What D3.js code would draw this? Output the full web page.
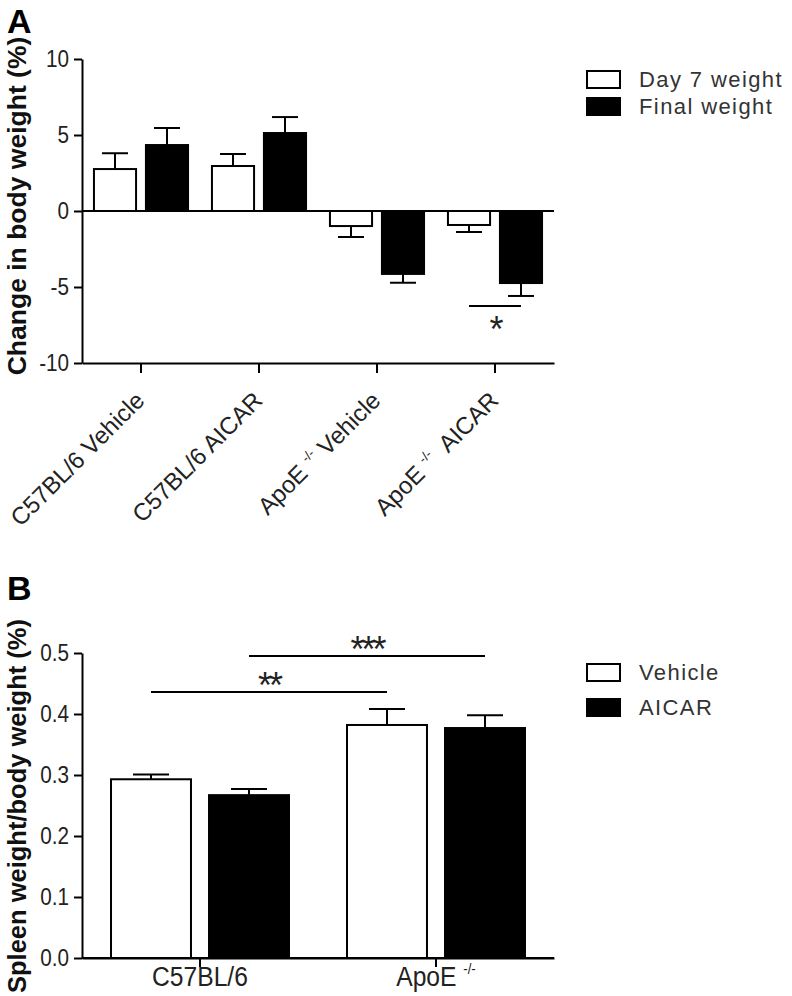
<!DOCTYPE html>
<html><head><meta charset="utf-8">
<script src="https://cdn.jsdelivr.net/npm/d3@7"></script>
<style>
body{margin:0;background:#fff}
svg{display:block}
text{font-family:"Liberation Sans",Arial,Helvetica,sans-serif;white-space:pre}
</style>
</head><body>
<svg id="chart" width="792" height="996"></svg>
<script>
// ---------- Panel A data ----------
const categoriesA = ["C57BL/6 Vehicle", "C57BL/6 AICAR", "ApoE -/- Vehicle", "ApoE -/-  AICAR"];
const seriesA = ["Day 7 weight", "Final weight"];
const day7Weight = [2.76, 2.96, -0.99, -0.92];
const day7Sem = [1.04, 0.79, 0.72, 0.46];
const finalWeight = [4.34, 5.13, -4.14, -4.74];
const finalSem = [1.12, 1.05, 0.58, 0.85];
const ticksA = [-10, -5, 0, 5, 10];
const sigA = [{from: [3, "Day 7 weight"], to: [3, "Final weight"], value: -6.25, label: "*"}];

// ---------- Panel B data ----------
const categoriesB = ["C57BL/6", "ApoE -/-"];
const seriesB = ["Vehicle", "AICAR"];
const vehicleRatio = [0.293, 0.382];
const vehicleSem = [0.008, 0.026];
const aicarRatio = [0.267, 0.377];
const aicarSem = [0.010, 0.021];
const ticksB = [0.0, 0.1, 0.2, 0.3, 0.4, 0.5];
const sigB = [
  {from: [0, "Vehicle"], to: [1, "Vehicle"], value: 0.436, label: "**"},
  {from: [0, "AICAR"], to: [1, "AICAR"], value: 0.495, label: "***"}
];

const fills = ["#ffffff", "#000000"];

const svg = d3.select("#chart");
svg.append("rect").attr("width", 792).attr("height", 996).attr("fill", "#fff");

function richText(sel, str, fs, supFs) {
  const parts = str.split("-/-");
  parts.forEach((p, i) => {
    if (i > 0) {
      sel.append("tspan").attr("font-size", supFs).attr("dy", -fs * 0.42).text("-/-");
      sel.append("tspan").attr("font-size", fs).attr("dy", fs * 0.42).text(p);
    } else {
      sel.append("tspan").text(p);
    }
  });
}

function styleYAxis(g, sx) {
  g.select(".domain").attr("stroke", "#000").attr("stroke-width", 2);
  g.selectAll(".tick line").attr("stroke", "#000").attr("stroke-width", 2);
  g.selectAll(".tick text")
    .attr("font-size", 23.5).attr("fill", "#222")
    .attr("font-family", "Liberation Sans, Arial, sans-serif")
    .each(function () {
      const t = d3.select(this);
      const x = +t.attr("x");
      t.attr("x", x / sx).attr("transform", `scale(${sx},1)`);
    });
}

function drawPanel(opts) {
  const {x, x2, y, cats, series, values, sems, ticks, fmt, capW, sig} = opts;
  const g = svg.append("g");
  const x0 = x.range()[0], x1 = x.range()[1];

  cats.forEach((c, i) => {
    series.forEach((s, j) => {
      const v = values[j][i];
      const e = sems[j][i];
      const bx = x(c) + x2(s);
      const bw = x2.bandwidth();
      g.append("rect")
        .attr("x", bx).attr("y", y(Math.max(0, v)))
        .attr("width", bw).attr("height", Math.abs(y(v) - y(0)))
        .attr("fill", fills[j]).attr("stroke", "#000").attr("stroke-width", 2);
      const ve = v >= 0 ? v + e : v - e;
      const cx = bx + bw / 2;
      g.append("line").attr("x1", cx).attr("x2", cx).attr("y1", y(v)).attr("y2", y(ve))
        .attr("stroke", "#000").attr("stroke-width", 2);
      g.append("line").attr("x1", cx - capW / 2).attr("x2", cx + capW / 2).attr("y1", y(ve)).attr("y2", y(ve))
        .attr("stroke", "#000").attr("stroke-width", 2);
    });
  });

  g.append("line").attr("x1", x0).attr("x2", x1).attr("y1", y(0)).attr("y2", y(0))
    .attr("stroke", "#000").attr("stroke-width", 2);

  const ya = g.append("g").attr("transform", `translate(${x0},0)`)
    .call(d3.axisLeft(y).tickValues(ticks).tickFormat(fmt).tickSize(8).tickSizeOuter(0).tickPadding(5));
  styleYAxis(ya, 0.88);

  const xa = g.append("g").attr("transform", `translate(0,${y.range()[0]})`)
    .call(d3.axisBottom(x).tickSize(opts.xTick).tickSizeOuter(0).tickFormat(""));
  xa.select(".domain").attr("stroke", "#000").attr("stroke-width", 2);
  xa.selectAll(".tick line").attr("stroke", "#000").attr("stroke-width", 2);

  sig.forEach(d => {
    const xa1 = x(cats[d.from[0]]) + x2(d.from[1]) + x2.bandwidth() / 2;
    const xa2 = x(cats[d.to[0]]) + x2(d.to[1]) + x2.bandwidth() / 2;
    g.append("line").attr("x1", xa1).attr("x2", xa2).attr("y1", y(d.value)).attr("y2", y(d.value))
      .attr("stroke", "#000").attr("stroke-width", 2);
    g.append("text").attr("x", (xa1 + xa2) / 2).attr("y", y(d.value) + opts.starDy)
      .attr("text-anchor", "middle").attr("font-size", 36).attr("letter-spacing", -3)
      .attr("fill", "#222").text(d.label);
  });

  const lg = g.append("g");
  series.forEach((s, j) => {
    const ly = opts.legendY + j * opts.legendStep;
    lg.append("rect").attr("x", 587).attr("y", ly).attr("width", 33).attr("height", 17)
      .attr("fill", fills[j]).attr("stroke", "#000").attr("stroke-width", 2);
    lg.append("text").attr("x", 639).attr("y", ly + 16).attr("font-size", 22)
      .attr("letter-spacing", 1.4).attr("fill", "#333").text(s);
  });
  return g;
}

// ---------- Panel A ----------
const yA = d3.scaleLinear().domain([-10, 10]).range([363, 59]);
const xA = d3.scaleBand().domain(categoriesA).range([82, 554]);
const xA2 = d3.scaleBand().domain(seriesA).range([0, xA.bandwidth()]).paddingInner(0.19).paddingOuter(0.23);
const gA = drawPanel({
  x: xA, x2: xA2, y: yA, cats: categoriesA, series: seriesA,
  values: [day7Weight, finalWeight], sems: [day7Sem, finalSem],
  ticks: ticksA, fmt: d => String(d), capW: 26, sig: sigA, starDy: 36, xTick: 10,
  legendY: 71, legendStep: 27
});
categoriesA.forEach(c => {
  const cx = xA(c) + xA.bandwidth() / 2;
  const t = gA.append("text")
    .attr("transform", `translate(${cx + 5},${402}) rotate(-45)`)
    .attr("text-anchor", "end").attr("font-size", 24).attr("fill", "#222");
  richText(t, c, 24, 13);
});
svg.append("text").attr("transform", "translate(26,206) rotate(-90)")
  .attr("text-anchor", "middle").attr("font-size", 26.5).attr("font-weight", "bold").attr("fill", "#111")
  .text("Change in body weight (%)");
svg.append("text").attr("x", 7).attr("y", 33).attr("font-size", 34).attr("font-weight", "bold").text("A");

// ---------- Panel B ----------
const yB = d3.scaleLinear().domain([0, 0.5]).range([958, 653]);
const xB = d3.scaleBand().domain(categoriesB).range([82, 554]);
const xB2 = d3.scaleBand().domain(seriesB).range([0, xB.bandwidth()]).paddingInner(0.184).paddingOuter(0.296);
const gB = drawPanel({
  x: xB, x2: xB2, y: yB, cats: categoriesB, series: seriesB,
  values: [vehicleRatio, aicarRatio], sems: [vehicleSem, aicarSem],
  ticks: ticksB, fmt: d3.format(".1f"), capW: 36, sig: sigB, starDy: 6, xTick: 9,
  legendY: 664, legendStep: 35
});
categoriesB.forEach(c => {
  const cx = xB(c) + xB.bandwidth() / 2;
  const t = gB.append("text")
    .attr("x", cx / 0.88).attr("y", 986).attr("transform", "scale(0.88,1)")
    .attr("text-anchor", "middle").attr("font-size", 28).attr("fill", "#222");
  richText(t, c, 28, 15);
});
svg.append("text").attr("transform", "translate(26,806) rotate(-90)")
  .attr("text-anchor", "middle").attr("font-size", 25.5).attr("font-weight", "bold").attr("fill", "#111")
  .text("Spleen weight/body weight (%)");
svg.append("text").attr("x", 7).attr("y", 600).attr("font-size", 34).attr("font-weight", "bold").text("B");
</script>
</body></html>
